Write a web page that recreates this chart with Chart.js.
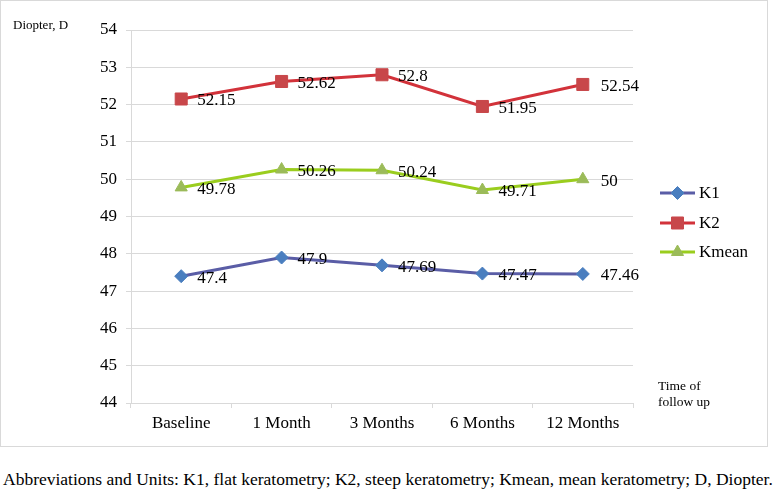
<!DOCTYPE html>
<html><head><meta charset="utf-8">
<script src="https://cdn.jsdelivr.net/npm/chart.js@4"></script>
<style>
body{margin:0;background:#fff;}
#box{position:absolute;left:0;top:0;width:766px;height:445px;border:1px solid #d9d9d9;}
#c{position:absolute;left:0;top:0;}
#cap{position:absolute;left:3px;top:469px;font-family:'Liberation Serif';font-size:17.5px;line-height:20px;white-space:nowrap;color:#000;}
</style></head><body>
<div id="box"></div>
<canvas id="c" width="776" height="446"></canvas>
<div id="cap">Abbreviations and Units: K1, flat keratometry; K2, steep keratometry; Kmean, mean keratometry; D, Diopter.</div>
<script>
const categories = ['Baseline', '1 Month', '3 Months', '6 Months', '12 Months'];
const k1 = [47.4, 47.9, 47.69, 47.47, 47.46];
const k2 = [52.15, 52.62, 52.8, 51.95, 52.54];
const kmean = [49.78, 50.26, 50.24, 49.71, 50];
const seriesNames = ['K1', 'K2', 'Kmean'];
const yMin = 44, yMax = 54, yStep = 1;
const yAxisTitle = 'Diopter, D';
const xAxisTitle = ['Time of', 'follow up'];

const FONT = "'Liberation Serif'";
Chart.defaults.font.family = FONT;
Chart.defaults.color = '#000';

const overlay = {
  id: 'overlay',
  afterDatasetsDraw(chart) {
    const ctx = chart.ctx;
    ctx.save();
    ctx.fillStyle = '#000';
    ctx.font = "17px " + FONT;
    ctx.textAlign = 'left';
    ctx.textBaseline = 'middle';
    chart.data.datasets.forEach((ds, di) => {
      const meta = chart.getDatasetMeta(di);
      meta.data.forEach((pt, i) => {
        const off = i === meta.data.length - 1 ? 18 : 16;
        ctx.fillText(String(ds.data[i]), pt.x + off, pt.y + 2);
      });
    });
    // legend
    const ly = [193, 223, 252];
    chart.data.datasets.forEach((ds, di) => {
      const y = ly[di];
      ctx.strokeStyle = ds.borderColor;
      ctx.lineWidth = 3;
      ctx.beginPath(); ctx.moveTo(660, y); ctx.lineTo(695, y); ctx.stroke();
      ctx.fillStyle = ds.pointBackgroundColor;
      ctx.strokeStyle = ds.pointBorderColor;
      ctx.lineWidth = 1;
      Chart.helpers.drawPoint(ctx, {pointStyle: ds.pointStyle, radius: ds.pointRadius, borderWidth: 1, rotation: 0}, 677.5, y);
      ctx.fillStyle = '#000';
      ctx.fillText(ds.label, 699, y + 1);
    });
    ctx.font = "13px " + FONT;
    ctx.fillText(yAxisTitle, 13, 26);
    ctx.font = "13.5px " + FONT;
    ctx.fillText(xAxisTitle[0], 658, 386);
    ctx.fillText(xAxisTitle[1], 658, 402);
    ctx.restore();
  }
};

const mk = (label, data, line, fill, style, r) => ({
  label, data, borderColor: line, borderWidth: 3,
  pointStyle: style, pointRadius: r, pointHoverRadius: r,
  pointBackgroundColor: fill, pointBorderColor: fill, pointBorderWidth: 1,
  tension: 0, fill: false
});

new Chart(document.getElementById('c'), {
  type: 'line',
  data: {
    labels: categories,
    datasets: [
      mk(seriesNames[0], k1, '#5A5DA6', '#4A7EBF', 'rectRot', 6.5),
      mk(seriesNames[1], k2, '#D2323A', '#C8474A', 'rect', 8.5),
      mk(seriesNames[2], kmean, '#9ACD1E', '#9BBB59', 'triangle', 7)
    ]
  },
  options: {
    responsive: false, animation: false,
    layout: {padding: {top: 30, left: 0, right: 143, bottom: 0}},
    plugins: {legend: {display: false}, tooltip: {enabled: false}},
    scales: {
      x: {
        offset: true,
        grid: {offset: true, drawOnChartArea: false, drawTicks: true, tickLength: 5, color: '#d9d9d9'},
        border: {color: '#d9d9d9'},
        ticks: {font: {size: 17}, padding: 5, maxRotation: 0, autoSkip: false},
        afterFit: s => { s.height = 43; }
      },
      y: {
        min: yMin, max: yMax,
        grid: {color: '#d9d9d9', tickLength: 5},
        border: {color: '#d9d9d9'},
        ticks: {stepSize: yStep, font: {size: 17}, padding: 9},
        afterFit: s => { s.width = 131; }
      }
    }
  },
  plugins: [overlay]
});
</script>
</body></html>
